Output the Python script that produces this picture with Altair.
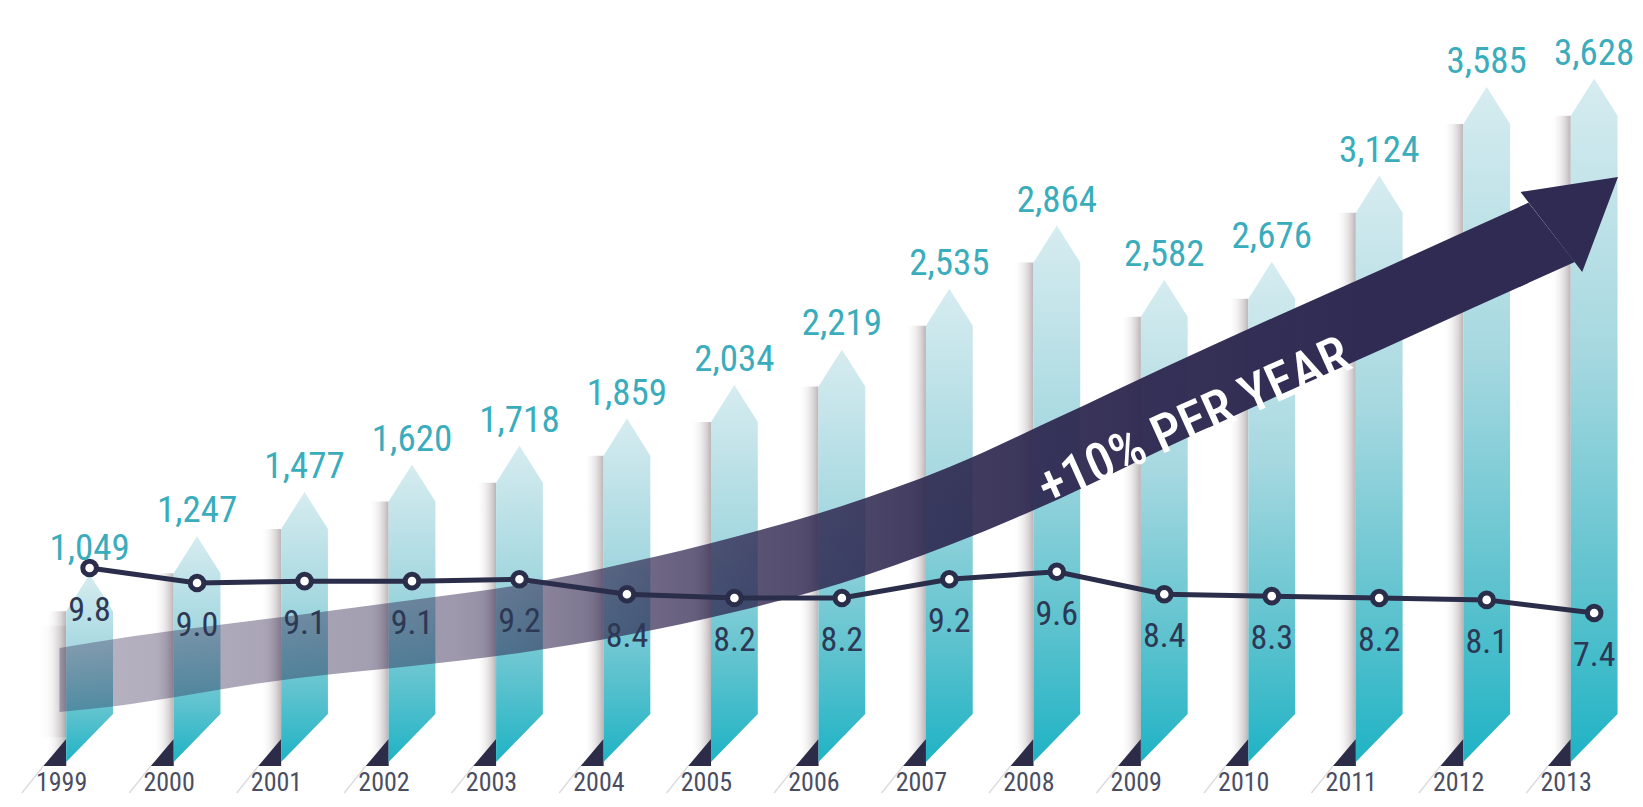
import altair as alt
import pandas as pd

# ---------------- data ----------------
YEARS = list(range(1999, 2014))
VALUES = [1049, 1247, 1477, 1620, 1718, 1859, 2034, 2219, 2535, 2864, 2582, 2676, 3124, 3585, 3628]
RATES = [9.8, 9.0, 9.1, 9.1, 9.2, 8.4, 8.2, 8.2, 9.2, 9.6, 8.4, 8.3, 8.2, 8.1, 7.4]
TREND_LABEL = "+10% PER YEAR"

# trend arrow outline, expressed in (year, value) units
ARROW_X = [1998.72, 1999.0, 2000.94, 2002.0, 2003.0, 2004.0, 2005.0, 2006.0, 2007.0,
           2008.02, 2009.01, 2010.01, 2011.01, 2011.87, 2012.39]
ARROW_TOP = [665, 691, 837, 915, 993, 1107, 1243, 1404, 1607, 1867, 2128, 2383, 2633, 2851, 2982]
ARROW_BOTTOM = [332, 347, 509, 571, 639, 732, 852, 1003, 1201, 1441, 1706, 1966, 2216, 2435, 2566]
CUT_X = [2012.30, 2012.39, 2012.82]
CUT_TOP = [2959, 2982, 2674]
CUT_BOTTOM = [2543, 2566, 2674]
HEAD_X = [2012.315, 2012.889, 2013.222]
HEAD_TOP = [3039, 3088, 3117]
HEAD_BOTTOM = [3039, 2622, 3117]
TREND_POS = (2009.28, 1841)

# ---------------- scales / styling ----------------
XD = [1998.2407, 2013.3056]
YD = [-121.3, 3996.4]
RD = [-2.52, 39.667]
HW = 0.2176      # half bar width (years)
TIP = 193        # arrow tip height (value units)
BL, BR = 71, 321 # slanted bar bottom (left / right)
TRI_W, TRI_B, TRI_T = 0.213, 50, 191
SH_W = 0.19

FONT = ("Liberation Sans Narrow, Roboto Condensed, Noto Sans Condensed, "
        "DejaVu Sans Condensed, sans-serif")
TEAL_TXT = "#3aadbd"
NAVY = "#2b2e4a"
BAND = "#302b52"


def X(f="x"):
    return alt.X(f"{f}:Q", scale=alt.Scale(domain=XD, nice=False, zero=False), axis=None)


def Y(f="y", d=YD):
    return alt.Y(f"{f}:Q", scale=alt.Scale(domain=d, nice=False, zero=False), axis=None)


bars, tris, shadows, diag = [], [], [], []
for yr, v in zip(YEARS, VALUES):
    bars += [dict(id=yr, x=yr - HW, y=v - TIP, y2=BL),
             dict(id=yr, x=yr, y=v, y2=(BL + BR) / 2),
             dict(id=yr, x=yr + HW, y=v - TIP, y2=BR)]
    tris += [dict(id=yr, x=yr - HW - TRI_W, y=TRI_B, y2=TRI_B),
             dict(id=yr, x=yr - HW, y=TRI_T, y2=TRI_B)]
    shadows.append(dict(x=yr - HW - SH_W, x2=yr - HW, y=TRI_B, y2=v - TIP))
    diag.append(dict(x=yr - HW - TRI_W, x2=yr - HW - TRI_W - 0.2, y=TRI_B, y2=TRI_B - 140))

bars_df = pd.DataFrame(bars)
tri_df = pd.DataFrame(tris)
sh_df = pd.DataFrame(shadows)
diag_df = pd.DataFrame(diag)
val_df = pd.DataFrame(dict(x=YEARS, y=VALUES))
rate_df = pd.DataFrame(dict(x=YEARS, r=RATES))
year_df = pd.DataFrame(dict(x=YEARS, t=[str(y) for y in YEARS]))
arrow_df = pd.DataFrame(dict(x=ARROW_X, y=ARROW_TOP, y2=ARROW_BOTTOM))
cut_df = pd.DataFrame(dict(x=CUT_X, y=CUT_TOP, y2=CUT_BOTTOM))
head_df = pd.DataFrame(dict(x=HEAD_X, y=HEAD_TOP, y2=HEAD_BOTTOM))
trend_df = pd.DataFrame(dict(x=[TREND_POS[0]], y=[TREND_POS[1]], t=[TREND_LABEL]))
lshadow_df = pd.DataFrame(dict(x=[1998.5], x2=[1999 - HW], y=[200], y2=[780]))

bar_grad = alt.LinearGradient(
    gradient="linear", x1=0, x2=0, y1=0, y2=1,
    stops=[alt.GradientStop(color="#d6ecf0", offset=0),
           alt.GradientStop(color="#a6d8e0", offset=0.4),
           alt.GradientStop(color="#5cc2ce", offset=0.75),
           alt.GradientStop(color="#1fb3c5", offset=1)])

shadow_grad = alt.LinearGradient(
    gradient="linear", x1=0, x2=1, y1=0, y2=0,
    stops=[alt.GradientStop(color="rgba(255,255,255,0)", offset=0),
           alt.GradientStop(color="rgba(140,125,130,0.28)", offset=0.7),
           alt.GradientStop(color="rgba(120,105,110,0.5)", offset=1)])

arrow_grad = alt.LinearGradient(
    gradient="linear", x1=0, x2=1, y1=0, y2=0,
    stops=[alt.GradientStop(color="rgba(48,36,78,0.34)", offset=0),
           alt.GradientStop(color="rgba(48,36,78,0.47)", offset=0.27),
           alt.GradientStop(color="rgba(46,36,78,0.71)", offset=0.414),
           alt.GradientStop(color="rgba(45,36,78,0.80)", offset=0.486),
           alt.GradientStop(color="rgba(44,38,78,0.89)", offset=0.585),
           alt.GradientStop(color="rgba(46,40,80,0.95)", offset=0.70),
           alt.GradientStop(color=BAND, offset=0.9),
           alt.GradientStop(color=BAND, offset=1)])

lshadow_grad = alt.LinearGradient(
    gradient="linear", x1=0, x2=1, y1=0, y2=0,
    stops=[alt.GradientStop(color="rgba(255,255,255,0)", offset=0),
           alt.GradientStop(color="rgba(110,100,110,0.18)", offset=1)])

shadow_l = alt.Chart(sh_df).mark_rect(fill=shadow_grad).encode(
    x=X(), x2="x2:Q", y=Y(), y2="y2:Q")

lshadow_l = alt.Chart(lshadow_df).mark_rect(fill=lshadow_grad).encode(
    x=X(), x2="x2:Q", y=Y(), y2="y2:Q")

diag_l = alt.Chart(diag_df).mark_rule(color="#dcdce0", strokeWidth=1.5).encode(
    x=X(), x2="x2:Q", y=Y(), y2="y2:Q")

tri_l = alt.Chart(tri_df).mark_area(color="#2c2b48", orient="vertical").encode(
    x=X(), y=Y(), y2="y2:Q", detail="id:N")

bar_l = alt.Chart(bars_df).mark_area(color=bar_grad, orient="vertical").encode(
    x=X(), y=Y(), y2="y2:Q", detail="id:N")

arrow_l = alt.Chart(arrow_df).mark_area(
    fill=arrow_grad, orient="vertical", interpolate="monotone").encode(
    x=X(), y=Y(), y2="y2:Q")

cut_l = alt.Chart(cut_df).mark_area(color=BAND, orient="vertical").encode(
    x=X(), y=Y(), y2="y2:Q")

head_l = alt.Chart(head_df).mark_area(color=BAND, orient="vertical").encode(
    x=X(), y=Y(), y2="y2:Q")

trend_l = alt.Chart(trend_df).mark_text(
    angle=335.8, align="center", baseline="middle", font=FONT, fontSize=53,
    fontWeight=500, color="white").encode(x=X(), y=Y(), text="t:N")

line_l = alt.Chart(rate_df).mark_line(color=NAVY, strokeWidth=5).encode(
    x=X(), y=Y("r", RD))

pt_l = alt.Chart(rate_df).mark_point(
    filled=True, fill="white", stroke=NAVY, strokeWidth=5, size=185, opacity=1
).encode(x=X(), y=Y("r", RD))

rate_txt = alt.Chart(rate_df).mark_text(
    dy=53, baseline="alphabetic", align="center", font=FONT, fontSize=34, color="#2d3854"
).encode(x=X(), y=Y("r", RD), text=alt.Text("r:Q", format=".1f"))

val_txt = alt.Chart(val_df).mark_text(
    dy=-14, baseline="alphabetic", align="center", font=FONT, fontSize=37, color=TEAL_TXT
).encode(x=X(), y=Y(), text=alt.Text("y:Q", format=",d"))

year_txt = alt.Chart(year_df).mark_text(
    dx=-28, baseline="alphabetic", align="center", font=FONT, fontSize=26, color="#4b4e62"
).encode(x=X(), y=alt.value(783), text="t:N")

chart = alt.layer(
    lshadow_l, shadow_l, diag_l, tri_l, bar_l, arrow_l, cut_l, head_l, trend_l,
    line_l, pt_l, rate_txt, val_txt, year_txt
).resolve_scale(y="independent").properties(
    width=1627, height=791,
    autosize=alt.AutoSizeParams(type="fit", contains="padding"),
    padding=0,
    background="white",
).configure_view(stroke=None)

chart.save("out.html", embed_options={"renderer": "svg", "actions": False})
